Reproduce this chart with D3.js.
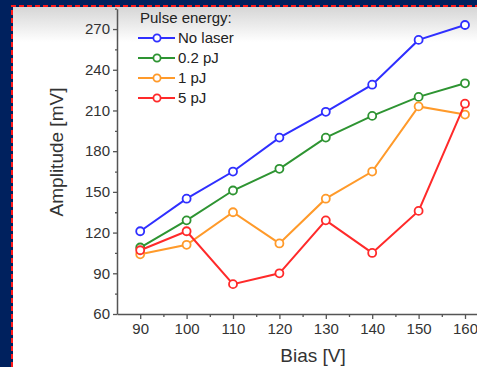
<!DOCTYPE html>
<html>
<head>
<meta charset="utf-8">
<script src="https://cdn.jsdelivr.net/npm/d3@7"></script>
<style>
  body { margin: 0; background: #00215e; }
  svg { display: block; font-family: "Liberation Sans", Arial, sans-serif; }
</style>
</head>
<body>
<div id="chart"></div>
<script>
// bias values on x axis
var bias = [90, 100, 110, 120, 130, 140, 150, 160];

// amplitude [mV] for each pulse energy
var noLaser = [121, 145, 165, 190, 209, 229, 262, 273];
var pj02 = [109, 129, 151, 167, 190, 206, 220, 230];
var pj1 = [104, 111, 135, 112, 145, 165, 213, 207];
var pj5 = [107, 121, 82, 90, 129, 105, 136, 215];

var seriesNames = ['No laser', '0.2 pJ', '1 pJ', '5 pJ'];
var seriesColors = ['#2f2fff', '#2e9432', '#ff9a2a', '#ff2a2a'];

var xTicks = [90, 100, 110, 120, 130, 140, 150, 160];
var xMinor = [95, 105, 115, 125, 135, 145, 155, 165];
var yTicks = [60, 90, 120, 150, 180, 210, 240, 270];
var yMinor = [75, 105, 135, 165, 195, 225, 255, 285];

var W = 477, H = 367;

var svg = d3.select('#chart').append('svg')
  .attr('width', W)
  .attr('height', H);

// panel with faint gray shade on top
var defs = svg.append('defs');
var grad = defs.append('linearGradient')
  .attr('id', 'topShade')
  .attr('gradientUnits', 'userSpaceOnUse')
  .attr('x1', 0).attr('y1', 7).attr('x2', 0).attr('y2', 42);
grad.append('stop').attr('offset', 0).attr('stop-color', '#d6d6d6');
grad.append('stop').attr('offset', 1).attr('stop-color', '#ffffff');

svg.append('rect')
  .attr('x', 13).attr('y', 7)
  .attr('width', W - 13).attr('height', H - 7)
  .attr('fill', 'url(#topShade)');

// red dashed frame
svg.append('path')
  .attr('d', 'M12,' + H + ' L12,6 L' + W + ',6')
  .attr('fill', 'none')
  .attr('stroke', '#ff1a1a')
  .attr('stroke-width', 2)
  .attr('stroke-dasharray', '5,3');

var x = d3.scaleLinear().domain([85, 165]).range([117, 488.2]);
var y = d3.scaleLinear().domain([60, 285]).range([314, 8.7]);

var axisColor = '#555';
var textColor = '#333';

// y axis, major then minor ticks
svg.append('g')
  .attr('transform', 'translate(117,0)')
  .call(d3.axisLeft(y).tickValues(yTicks).tickSize(4).tickSizeOuter(0).tickPadding(3));
svg.append('g')
  .attr('transform', 'translate(117,0)')
  .call(d3.axisLeft(y).tickValues(yMinor).tickSize(2).tickSizeOuter(0).tickFormat(''))
  .select('.domain').remove();

// x axis
svg.append('g')
  .attr('transform', 'translate(0,314)')
  .call(d3.axisBottom(x).tickValues(xTicks).tickSize(5).tickSizeOuter(0).tickPadding(4));
svg.append('g')
  .attr('transform', 'translate(0,314)')
  .call(d3.axisBottom(x).tickValues(xMinor).tickSize(3).tickSizeOuter(0).tickFormat(''))
  .select('.domain').remove();

svg.selectAll('.domain').attr('stroke', axisColor).attr('stroke-width', 1.5);
svg.selectAll('.tick line').attr('stroke', axisColor).attr('stroke-width', 1.3);
svg.selectAll('.tick text')
  .attr('fill', textColor)
  .style('font-size', '15px')
  .style('font-family', '"Liberation Sans", Arial, sans-serif');

// axis titles
svg.append('text')
  .attr('x', 313).attr('y', 362)
  .attr('text-anchor', 'middle')
  .attr('fill', textColor)
  .style('font-size', '19px')
  .text('Bias [V]');

svg.append('text')
  .attr('transform', 'translate(63,152) rotate(-90)')
  .attr('text-anchor', 'middle')
  .attr('fill', textColor)
  .style('font-size', '19px')
  .text('Amplitude [mV]');

// series lines with open circle markers
var allSeries = [noLaser, pj02, pj1, pj5];
var line = d3.line()
  .x(function(d, i){ return x(bias[i]); })
  .y(function(d){ return y(d); });

allSeries.forEach(function(vals, s) {
  var g = svg.append('g');
  g.append('path')
    .datum(vals)
    .attr('d', line)
    .attr('fill', 'none')
    .attr('stroke', seriesColors[s])
    .attr('stroke-width', 2);
  g.selectAll('circle')
    .data(vals)
    .enter().append('circle')
    .attr('cx', function(d, i){ return x(bias[i]); })
    .attr('cy', function(d){ return y(d); })
    .attr('r', 4)
    .attr('fill', '#fff')
    .attr('stroke', seriesColors[s])
    .attr('stroke-width', 1.8);
});

// legend
var legend = svg.append('g');
legend.append('text')
  .attr('x', 140).attr('y', 23)
  .attr('fill', '#222')
  .style('font-size', '15px')
  .text('Pulse energy:');

seriesNames.forEach(function(name, s) {
  var ly = 38 + s * 20;
  legend.append('line')
    .attr('x1', 138).attr('x2', 175)
    .attr('y1', ly).attr('y2', ly)
    .attr('stroke', seriesColors[s])
    .attr('stroke-width', 2);
  legend.append('circle')
    .attr('cx', 157).attr('cy', ly)
    .attr('r', 3.6)
    .attr('fill', '#fff')
    .attr('stroke', seriesColors[s])
    .attr('stroke-width', 1.8);
  legend.append('text')
    .attr('x', 178).attr('y', ly + 5)
    .attr('fill', '#222')
    .style('font-size', '15px')
    .text(name);
});
</script>
</body>
</html>
